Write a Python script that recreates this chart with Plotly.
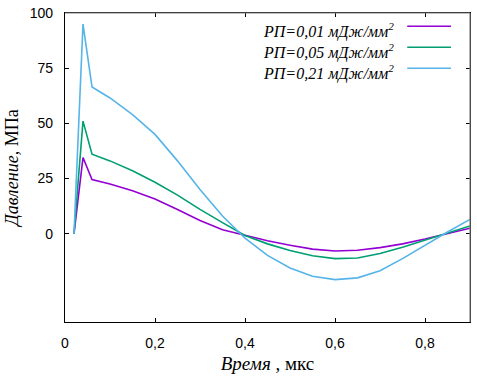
import plotly.graph_objects as go

time_us = [0.02, 0.04, 0.06, 0.10, 0.15, 0.20, 0.25, 0.30, 0.35, 0.40, 0.45,
           0.50, 0.55, 0.60, 0.65, 0.70, 0.75, 0.80, 0.85, 0.90]
p_001 = [0, 34.5, 24.5, 22.5, 19.5, 15.7, 11.0, 6.0, 1.8, -0.8, -3.2,
         -5.2, -7.0, -7.8, -7.5, -6.3, -4.6, -2.4, 0.0, 2.5]
p_005 = [0, 51.0, 36.0, 33.0, 28.5, 23.3, 17.5, 11.0, 5.0, -0.8, -4.6,
         -7.6, -10.0, -11.3, -11.0, -9.0, -6.1, -3.0, 0.3, 3.5]
p_021 = [0, 95.0, 66.5, 61.5, 54.0, 45.0, 33.0, 20.0, 8.0, -2.0, -9.8,
         -15.5, -19.3, -20.8, -20.0, -16.8, -11.3, -5.2, 0.8, 6.5]

names = ["РП=0,01 мДж/мм<sup>2</sup>", "РП=0,05 мДж/мм<sup>2</sup>", "РП=0,21 мДж/мм<sup>2</sup>"]
colors = ["#9400D3", "#009E73", "#56B4E9"]
series = [p_001, p_005, p_021]

xticks = [0, 0.2, 0.4, 0.6, 0.8]
xticktext = ["0", "0,2", "0,4", "0,6", "0,8"]
yticks = [0, 25, 50, 75, 100]

SERIF = "Liberation Serif, Times New Roman, serif"
SANS = "Arial, Liberation Sans, sans-serif"

fig = go.Figure()
for name, col, ys in zip(names, colors, series):
    fig.add_trace(go.Scatter(x=time_us, y=ys, mode="lines", name=name,
                             line=dict(color=col, width=1.6), showlegend=False))

# gnuplot-style legend: text right-aligned, sample line on the right
legend_rows = [0.942, 0.874, 0.806]
shapes = []
annotations = []
for name, col, yy in zip(names, colors, legend_rows):
    annotations.append(dict(x=0.818, y=yy, xref="paper", yref="paper", text="<i>" + name + "</i>",
                            showarrow=False, xanchor="right", yanchor="middle",
                            font=dict(family=SERIF, size=16, color="black")))
    shapes.append(dict(type="line", xref="paper", yref="paper", x0=0.845, x1=0.953,
                       y0=yy + 0.015, y1=yy + 0.015, line=dict(color=col, width=1.6)))

# gray top/right frame
shapes.append(dict(type="line", xref="paper", yref="paper", x0=0, x1=1, y0=1, y1=1,
                   line=dict(color="#808080", width=1.2)))
shapes.append(dict(type="line", xref="paper", yref="paper", x0=1, x1=1, y0=0, y1=1,
                   line=dict(color="#808080", width=1.2)))

fig.update_layout(
    width=477, height=387,
    margin=dict(l=65, r=7, t=13, b=65, autoexpand=False),
    plot_bgcolor="white", paper_bgcolor="white",
    font=dict(family=SANS, size=14, color="black"),
    shapes=shapes, annotations=annotations,
)
fig.update_xaxes(range=[0, 0.9], tickvals=xticks, ticktext=xticktext, automargin=False,
                 showgrid=False, zeroline=False, showline=True, linecolor="black", linewidth=1.2,
                 mirror="ticks", ticks="inside", ticklen=4, tickcolor="black",
                 ticklabelstandoff=8, tickfont=dict(family=SANS, size=14),
                 title=dict(text="<i>Время</i> , мкс", font=dict(family=SERIF, size=19),
                            standoff=6))
fig.update_yaxes(range=[-40, 100], tickvals=yticks, automargin=False,
                 showgrid=False, zeroline=False, showline=True, linecolor="black", linewidth=1.2,
                 mirror="ticks", ticks="inside", ticklen=4, tickcolor="black",
                 ticklabelstandoff=8, tickfont=dict(family=SANS, size=14),
                 title=dict(text="<i>Давление,</i> МПа", font=dict(family=SERIF, size=18),
                            standoff=6))

fig.write_html("out.html", config={"displayModeBar": False},
               post_script="document.body.style.margin='0';")
